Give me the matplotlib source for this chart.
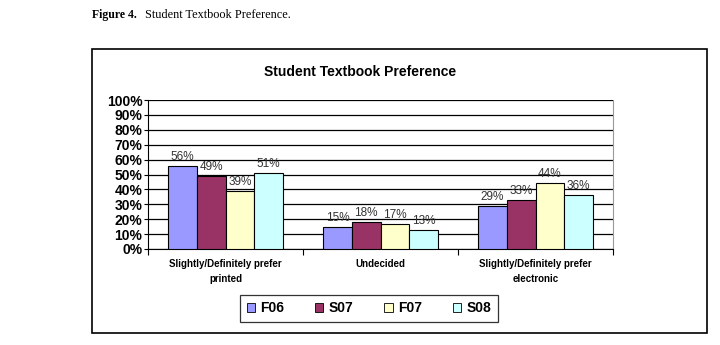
import numpy as np
import matplotlib.pyplot as plt
from matplotlib.patches import Rectangle

categories = ["Slightly/Definitely prefer\nprinted", "Undecided",
              "Slightly/Definitely prefer\nelectronic"]
terms = ["F06", "S07", "F07", "S08"]
f06 = [56, 15, 29]
s07 = [49, 18, 33]
f07 = [39, 17, 44]
s08 = [51, 13, 36]
colors = ["#9999FF", "#993366", "#FFFFCC", "#CCFFFF"]

plt.rcParams["font.family"] = ["Liberation Sans", "DejaVu Sans"]

fig = plt.figure(figsize=(7.2, 3.45), dpi=100)

# caption above the chart frame
fig.text(92 / 720, 1 - 15 / 345, "Figure 4.", family="Liberation Serif",
         weight="bold", fontsize=8.5, va="center", ha="left")
fig.text(145 / 720, 1 - 15 / 345, "Student Textbook Preference.",
         family="Liberation Serif", fontsize=8.8, va="center", ha="left")

# chart frame
fig.patches.append(Rectangle((92 / 720, 1 - 333 / 345), 615 / 720, 284 / 345,
                             transform=fig.transFigure, fill=False,
                             edgecolor="black", linewidth=1.2))

fig.text(360 / 720, 1 - 72 / 345, "Student Textbook Preference",
         weight="bold", fontsize=10, ha="center", va="center")

ax = fig.add_axes([148 / 720, 1 - 249 / 345, 465 / 720, 149 / 345])

x = np.arange(len(categories))
w = 0.185
series = [f06, s07, f07, s08]
for i, (vals, c, name) in enumerate(zip(series, colors, terms)):
    pos = x + (i - 1.5) * w
    ax.bar(pos, vals, width=w, color=c, edgecolor="black", linewidth=0.8,
           label=name, zorder=3)
    for px, v in zip(pos, vals):
        ax.text(px, v + 2, f"{v}%", ha="center", va="bottom", fontsize=8.5,
                color="#333333", zorder=4)

ax.set_xlim(-0.5, 2.5)
ax.set_ylim(0, 100)
ax.set_yticks(np.arange(0, 101, 10))
ax.set_yticklabels([f"{t}%" for t in range(0, 101, 10)], weight="bold",
                   fontsize=10)
ax.yaxis.grid(True, color="black", linewidth=0.9, zorder=0)
ax.set_axisbelow(True)
ax.tick_params(axis="y", length=3, pad=1)

ax.set_xticks([-0.5, 0.5, 1.5, 2.5])
ax.set_xticklabels([])
ax.set_xticks(x, minor=True)
ax.set_xticklabels(categories, minor=True, weight="bold", fontsize=7,
                   linespacing=1.7)
ax.tick_params(axis="x", which="major", length=4)
ax.tick_params(axis="x", which="minor", length=0, pad=7)

ax.spines["top"].set_visible(False)
ax.spines["right"].set_color("#999999")
for s in ["left", "bottom"]:
    ax.spines[s].set_color("black")

leg = fig.legend(loc="center", bbox_to_anchor=(369 / 720, 1 - 308.5 / 345),
                 ncol=4, frameon=True, fancybox=False, edgecolor="black",
                 prop={"weight": "bold", "size": 10}, handlelength=0.6,
                 handleheight=0.6, columnspacing=2.2, handletextpad=0.4,
                 borderpad=0.5)
leg.get_frame().set_linewidth(0.9)
for h in leg.legend_handles:
    h.set_linewidth(0.6)

plt.savefig("out.png", dpi=100)
